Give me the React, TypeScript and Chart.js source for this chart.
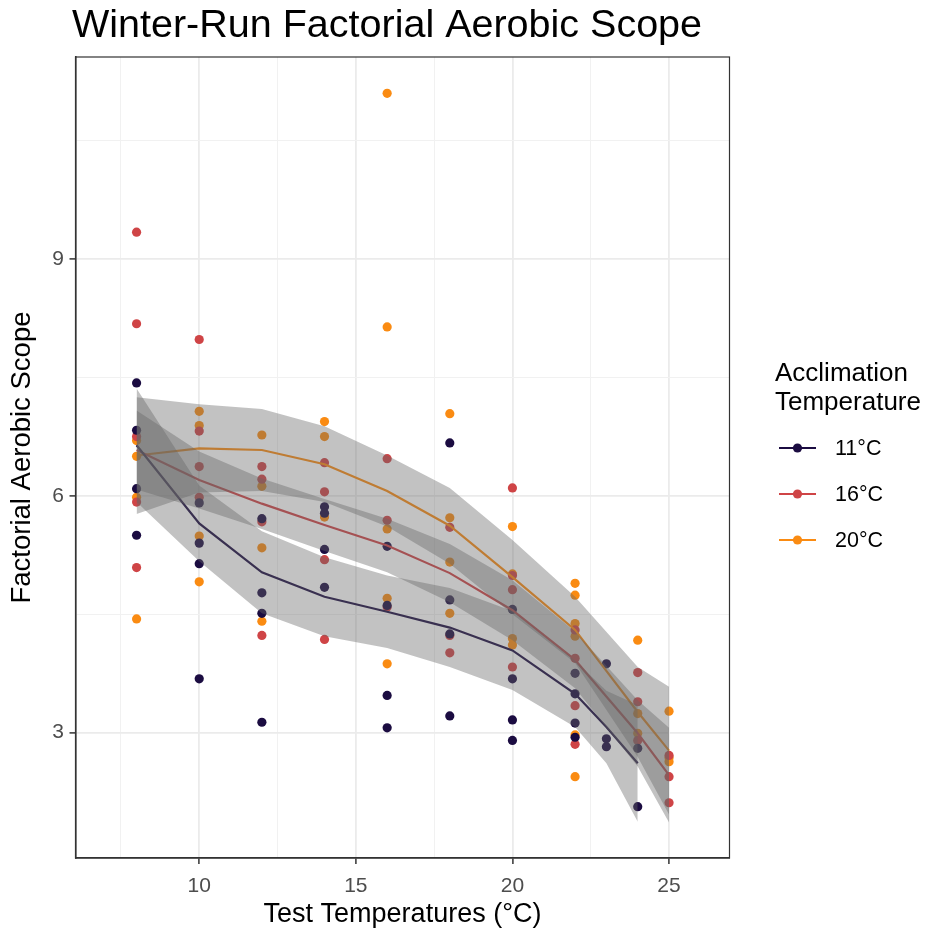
import React, { useEffect, useRef } from "react";
import { Chart, registerables } from "chart.js";
Chart.register(...registerables);

// ---- data ----
const groupLabels = ["11°C", "16°C", "20°C"];
const groupColors = ["#1B0C41", "#CF4446", "#FA8B12"];

// observed points, 11°C acclimation
const temps11 = [8, 8, 8, 8, 10, 10, 10, 10, 12, 12, 12, 12, 14, 14, 14, 14, 16, 16, 16, 16, 18, 18, 18, 18, 20, 20, 20, 20, 22, 22, 22, 22, 23, 23, 23, 24, 24];
const fas11 = [7.43, 6.83, 6.09, 5.5, 5.91, 5.4, 5.14, 3.68, 5.71, 4.77, 4.51, 3.13, 5.86, 5.78, 5.32, 4.84, 5.36, 4.61, 3.47, 3.06, 6.67, 4.68, 4.25, 3.21, 4.56, 3.68, 3.16, 2.9, 3.75, 3.49, 3.12, 2.94, 3.87, 2.92, 2.82, 2.8, 2.06];

// observed points, 16°C acclimation
const temps16 = [8, 8, 8, 8, 8, 10, 10, 10, 10, 12, 12, 12, 12, 14, 14, 14, 14, 16, 16, 16, 18, 18, 18, 20, 20, 20, 20, 22, 22, 22, 22, 24, 24, 24, 25, 25, 25];
const fas16 = [9.34, 8.18, 6.75, 5.92, 5.09, 7.98, 6.82, 6.37, 5.98, 6.37, 6.21, 5.67, 4.23, 6.42, 6.05, 5.19, 4.18, 6.47, 5.69, 4.59, 5.6, 4.23, 4.01, 6.1, 4.99, 4.81, 3.83, 4.3, 3.94, 3.34, 2.85, 3.76, 3.39, 2.9, 2.71, 2.44, 2.11];

// observed points, 20°C acclimation
const temps20 = [8, 8, 8, 8, 10, 10, 10, 10, 12, 12, 12, 12, 14, 14, 14, 16, 16, 16, 16, 16, 18, 18, 18, 18, 20, 20, 20, 20, 22, 22, 22, 22, 22, 22, 24, 24, 24, 25, 25, 25];
const fas20 = [6.7, 6.5, 5.98, 4.44, 7.07, 6.89, 5.49, 4.91, 6.77, 6.12, 5.34, 4.41, 6.94, 6.75, 5.73, 11.1, 8.14, 5.58, 4.7, 3.87, 7.04, 5.72, 5.16, 4.51, 5.61, 5.01, 4.19, 4.11, 4.89, 4.74, 4.38, 4.22, 2.97, 2.44, 4.17, 3.24, 2.99, 3.27, 2.68, 2.63];

// loess fits with confidence band
const fitT11 = [8, 10, 12, 14, 16, 18, 20, 22, 23, 24];
const fit11 = [6.64, 5.65, 5.03, 4.72, 4.53, 4.33, 4.04, 3.49, 3.07, 2.61];
const lo11 = [5.92, 5.17, 4.51, 4.22, 4.07, 3.83, 3.54, 3.07, 2.61, 1.87];
const hi11 = [7.36, 6.13, 5.55, 5.22, 4.99, 4.83, 4.54, 3.91, 3.53, 3.35];

const fitT16 = [8, 10, 12, 14, 16, 18, 20, 22, 24, 25];
const fit16 = [6.58, 6.2, 5.9, 5.63, 5.37, 5.02, 4.55, 3.92, 2.99, 2.46];
const lo16 = [6.08, 5.84, 5.58, 5.3, 5.03, 4.65, 4.17, 3.56, 2.57, 1.86];
const hi16 = [7.08, 6.56, 6.22, 5.96, 5.71, 5.39, 4.93, 4.28, 3.41, 3.06];

const fitT20 = [8, 10, 12, 14, 16, 18, 20, 22, 24, 25];
const fit20 = [6.51, 6.6, 6.58, 6.4, 6.06, 5.62, 4.97, 4.3, 3.26, 2.77];
const lo20 = [5.77, 6.04, 6.06, 5.92, 5.61, 5.14, 4.5, 3.88, 2.69, 1.96];
const hi20 = [7.25, 7.16, 7.1, 6.88, 6.51, 6.1, 5.44, 4.72, 3.83, 3.58];

const xMajorTicks = [10, 15, 20, 25];
const xMinorTicks = [7.5, 12.5, 17.5, 22.5];
const yMajorTicks = [3, 6, 9];
const yMinorTicks = [4.5, 7.5, 10.5];

const FONT = '"Liberation Sans", Arial, sans-serif';

const pts = (xs: number[], ys: number[]) => xs.map((x, i) => ({ x, y: ys[i] }));

export default function App() {
  const ref = useRef<HTMLCanvasElement | null>(null);

  useEffect(() => {
    if (!ref.current) return;
    const groups = [
      { t: temps11, v: fas11, ft: fitT11, f: fit11, lo: lo11, hi: hi11 },
      { t: temps16, v: fas16, ft: fitT16, f: fit16, lo: lo16, hi: hi16 },
      { t: temps20, v: fas20, ft: fitT20, f: fit20, lo: lo20, hi: hi20 },
    ];
    const datasets: any[] = [];
    groups.forEach((g, gi) => {
      datasets.push({
        type: "scatter",
        label: groupLabels[gi] + " points",
        data: pts(g.t, g.v),
        backgroundColor: groupColors[gi],
        borderWidth: 0,
        pointRadius: 4.6,
        pointHoverRadius: 4.6,
        order: 3,
      });
    });
    groups.forEach((g, gi) => {
      datasets.push({
        type: "line",
        label: groupLabels[gi] + " fit",
        data: pts(g.ft, g.f),
        borderColor: groupColors[gi],
        borderWidth: 2.2,
        pointRadius: 0,
        tension: 0,
        fill: false,
        order: 2,
      });
    });
    groups.forEach((g, gi) => {
      datasets.push({
        type: "line",
        label: groupLabels[gi] + " upper",
        data: pts(g.ft, g.hi),
        borderWidth: 0,
        borderColor: "rgba(0,0,0,0)",
        pointRadius: 0,
        tension: 0,
        fill: false,
        order: 1,
      });
      datasets.push({
        type: "line",
        label: groupLabels[gi] + " lower",
        data: pts(g.ft, g.lo),
        borderWidth: 0,
        borderColor: "rgba(0,0,0,0)",
        backgroundColor: "rgba(102,102,102,0.4)",
        pointRadius: 0,
        tension: 0,
        fill: { target: "-1", above: "rgba(102,102,102,0.4)", below: "rgba(102,102,102,0.4)" },
        order: 1,
      });
    });

    const decor = {
      id: "decor",
      afterDraw(chart: any) {
        const { ctx, chartArea: a } = chart;
        ctx.save();
        // panel border
        ctx.strokeStyle = "#333333";
        ctx.lineWidth = 1.2;
        ctx.strokeRect(a.left, a.top, a.right - a.left, a.bottom - a.top);
        // title
        ctx.fillStyle = "#000";
        ctx.font = `39.5px ${FONT}`;
        ctx.textBaseline = "alphabetic";
        ctx.textAlign = "left";
        ctx.fillText("Winter-Run Factorial Aerobic Scope", 72, 37);
        // legend
        ctx.font = `26px ${FONT}`;
        ctx.fillText("Acclimation", 775, 381);
        ctx.fillText("Temperature", 775, 410);
        const ys = [448, 494, 540];
        ys.forEach((y, i) => {
          ctx.strokeStyle = groupColors[i];
          ctx.lineWidth = 2.2;
          ctx.beginPath();
          ctx.moveTo(779, y);
          ctx.lineTo(816, y);
          ctx.stroke();
          ctx.fillStyle = groupColors[i];
          ctx.beginPath();
          ctx.arc(797.5, y, 4.6, 0, Math.PI * 2);
          ctx.fill();
          ctx.fillStyle = "#000";
          ctx.font = `21.5px ${FONT}`;
          ctx.textBaseline = "middle";
          ctx.fillText(groupLabels[i], 835, y + 1);
        });
        ctx.restore();
      },
    };

    const gridColor = (majors: number[]) => (c: any) =>
      c.tick && majors.includes(c.tick.value) ? "#EBEBEB" : "#F1F1F1";
    const gridWidth = (majors: number[]) => (c: any) =>
      c.tick && majors.includes(c.tick.value) ? 1.8 : 1;
    const tickColor = (majors: number[]) => (c: any) =>
      c.tick && majors.includes(c.tick.value) ? "#333333" : "rgba(0,0,0,0)";

    const chart = new Chart(ref.current, {
      type: "scatter",
      data: { datasets },
      plugins: [decor],
      options: {
        animation: false,
        responsive: true,
        maintainAspectRatio: false,
        events: [],
        layout: { padding: { top: 57, right: 197.5, left: 0, bottom: 0 } },
        plugins: {
          legend: { display: false },
          tooltip: { enabled: false },
          title: { display: false },
        },
        scales: {
          x: {
            type: "linear",
            min: 6.05,
            max: 26.93,
            afterBuildTicks: (s: any) => {
              s.ticks = [...xMinorTicks, ...xMajorTicks].sort((p, q) => p - q).map((v) => ({ value: v }));
            },
            afterFit: (s: any) => {
              s.height = 76;
            },
            ticks: {
              autoSkip: false,
              maxRotation: 0,
              padding: 10,
              color: "#4D4D4D",
              font: { family: FONT, size: 21 },
              callback: (v: any) => (xMajorTicks.includes(Number(v)) ? String(v) : ""),
            },
            grid: {
              color: gridColor(xMajorTicks),
              lineWidth: gridWidth(xMajorTicks),
              tickColor: tickColor(xMajorTicks),
              tickLength: 6,
              tickWidth: 1.5,
            },
            border: { display: true, color: "#333333", width: 1.6 },
            title: {
              display: true,
              text: "Test Temperatures (°C)",
              color: "#000",
              font: { family: FONT, size: 27 },
              padding: { top: 0, bottom: 3 },
            },
          },
          y: {
            type: "linear",
            min: 1.41,
            max: 11.56,
            afterBuildTicks: (s: any) => {
              s.ticks = [...yMinorTicks, ...yMajorTicks].sort((p, q) => p - q).map((v) => ({ value: v }));
            },
            afterFit: (s: any) => {
              s.width = 75.5;
            },
            ticks: {
              autoSkip: false,
              padding: 5.5,
              color: "#4D4D4D",
              font: { family: FONT, size: 21 },
              callback: (v: any) => (yMajorTicks.includes(Number(v)) ? String(v) : ""),
            },
            grid: {
              color: gridColor(yMajorTicks),
              lineWidth: gridWidth(yMajorTicks),
              tickColor: tickColor(yMajorTicks),
              tickLength: 6,
              tickWidth: 1.5,
            },
            border: { display: true, color: "#333333", width: 1.6 },
            title: {
              display: true,
              text: "Factorial Aerobic Scope",
              color: "#000",
              font: { family: FONT, size: 27.5 },
              padding: { top: 6, bottom: 0 },
            },
          },
        },
      } as any,
    });
    return () => chart.destroy();
  }, []);

  return (
    <div style={{ position: "absolute", left: 0, top: 0, width: 927, height: 934, background: "#fff" }}>
      <canvas ref={ref} style={{ display: "block" }} />
    </div>
  );
}
